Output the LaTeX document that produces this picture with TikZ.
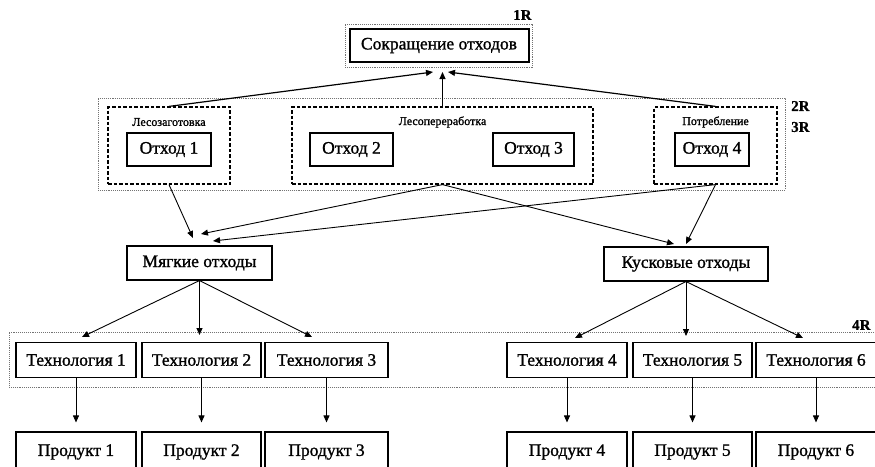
\documentclass[tikz,border=0pt]{standalone}
\usepackage{fontspec}
\setmainfont[FakeBold=0.6]{Liberation Serif}
\newfontfamily\heavyfont[FakeBold=1.2]{Liberation Serif}
\usetikzlibrary{arrows.meta}
\begin{document}
\begin{tikzpicture}[x=1pt,y=-1pt,
  box/.style={draw=black,line width=1.1pt,rectangle,inner sep=0pt,font=\heavyfont\fontsize{17.5}{20}\selectfont},
  thickbox/.style={box,line width=2pt},
  grp/.style={draw=black!55,line width=0.9pt,densely dotted,rectangle,inner sep=0pt},
  dbox/.style={draw=black,line width=1.2pt,dash pattern=on 3.5pt off 2pt,rectangle,inner sep=0pt},
  small/.style={font=\heavyfont\fontsize{12}{14}\selectfont,inner sep=0pt},
  rlab/.style={font=\fontsize{15}{17}\selectfont\bfseries,inner sep=0pt,anchor=west},
  arr/.style={line width=0.9pt,-{Triangle[length=7pt,width=6pt]}},
  arrt/.style={line width=1.2pt,-{Triangle[length=7pt,width=6pt]}}
]
\useasboundingbox (0,0) rectangle (875,466);
% top
\node[grp,minimum width=187pt,minimum height=43pt] (topouter) at (438.5,45.5) {};
\node[thickbox,minimum width=179pt,minimum height=33pt] (top) at (439,45.5) {Сокращение отходов};
\node[rlab] (r1) at (513,15) {1R};
% level 2/3
\node[grp,minimum width=687pt,minimum height=92pt] (g23) at (441.5,144) {};
\node[rlab] (r2) at (791,106) {2R};
\node[rlab] (r3) at (791,127) {3R};
\node[dbox,minimum width=122pt,minimum height=77pt] (d1) at (169,145.5) {};
\node[dbox,minimum width=301pt,minimum height=77pt] (d2) at (442.5,145.5) {};
\node[dbox,minimum width=123pt,minimum height=77pt] (d3) at (715.5,145.5) {};
\node[small] (l1) at (169,122) {Лесозаготовка};
\node[small] (l2) at (442.5,122) {Лесопереработка};
\node[small] (l3) at (715.5,122) {Потребление};
\node[box,minimum width=84pt,minimum height=33pt] (o1) at (169,149.5) {Отход 1};
\node[box,minimum width=83pt,minimum height=33pt] (o2) at (351.5,149.5) {Отход 2};
\node[box,minimum width=81pt,minimum height=33pt] (o3) at (533.5,149.5) {Отход 3};
\node[box,minimum width=74pt,minimum height=33pt] (o4) at (712,149.5) {Отход 4};
% middle
\node[box,minimum width=145pt,minimum height=34pt] (soft) at (199.5,263) {Мягкие отходы};
\node[box,minimum width=164pt,minimum height=34pt] (chunk) at (686,264) {Кусковые отходы};
% level 4
\node[grp,minimum width=900pt,minimum height=55pt] (g4) at (459,359.5) {};
\node[rlab] (r4) at (852,325) {4R};
\node[box,minimum width=120pt,minimum height=35pt] (t1) at (76,360) {Технология 1};
\node[box,minimum width=119pt,minimum height=35pt] (t2) at (201.5,360) {Технология 2};
\node[box,minimum width=123pt,minimum height=35pt] (t3) at (326.5,360) {Технология 3};
\node[box,minimum width=120pt,minimum height=35pt] (t4) at (567,360) {Технология 4};
\node[box,minimum width=119pt,minimum height=35pt] (t5) at (692.5,360) {Технология 5};
\node[box,minimum width=120pt,minimum height=35pt] (t6) at (816,360) {Технология 6};
\node[box,minimum width=120pt,minimum height=40pt] (p1) at (76,452) {Продукт 1};
\node[box,minimum width=119pt,minimum height=40pt] (p2) at (201.5,452) {Продукт 2};
\node[box,minimum width=123pt,minimum height=40pt] (p3) at (326.5,452) {Продукт 3};
\node[box,minimum width=120pt,minimum height=40pt] (p4) at (567,452) {Продукт 4};
\node[box,minimum width=119pt,minimum height=40pt] (p5) at (692.5,452) {Продукт 5};
\node[box,minimum width=120pt,minimum height=40pt] (p6) at (816,452) {Продукт 6};
% arrow tip coordinates
\coordinate (ta) at (433,72);
\coordinate (tb) at (442.5,72);
\coordinate (tc) at (448,72);
\coordinate (sa) at (193,238);
\coordinate (sb) at (201,234);
\coordinate (sc) at (213,241);
\coordinate (ka) at (674,244);
\coordinate (kb) at (686,244);
\coordinate (m1) at (82,337);
\coordinate (m2) at (199.5,335);
\coordinate (m3) at (312,337);
\coordinate (n4) at (575,338);
\coordinate (n5) at (686,336);
\coordinate (n6) at (803,338);
% arrows
\draw[arrt] (d1.north) -- (ta);
\draw[arr] (d2.north) -- (tb);
\draw[arrt] (d3.north) -- (tc);
\draw[arr] (d1.south) -- (sa);
\draw[arr] (d2.south) -- (sb);
\draw[arr] (d3.south) -- (sc);
\draw[arr] (d2.south) -- (ka);
\draw[arr] (d3.south) -- (kb);
\draw[arr] (soft.south) -- (m1);
\draw[arr] (soft.south) -- (m2);
\draw[arr] (soft.south) -- (m3);
\draw[arr] (chunk.south) -- (n4);
\draw[arr] (chunk.south) -- (n5);
\draw[arr] (chunk.south) -- (n6);
\foreach \i in {1,...,6}{\draw[arr,shorten >=9pt] (t\i.south) -- (p\i.north);}
\end{tikzpicture}
\end{document}
